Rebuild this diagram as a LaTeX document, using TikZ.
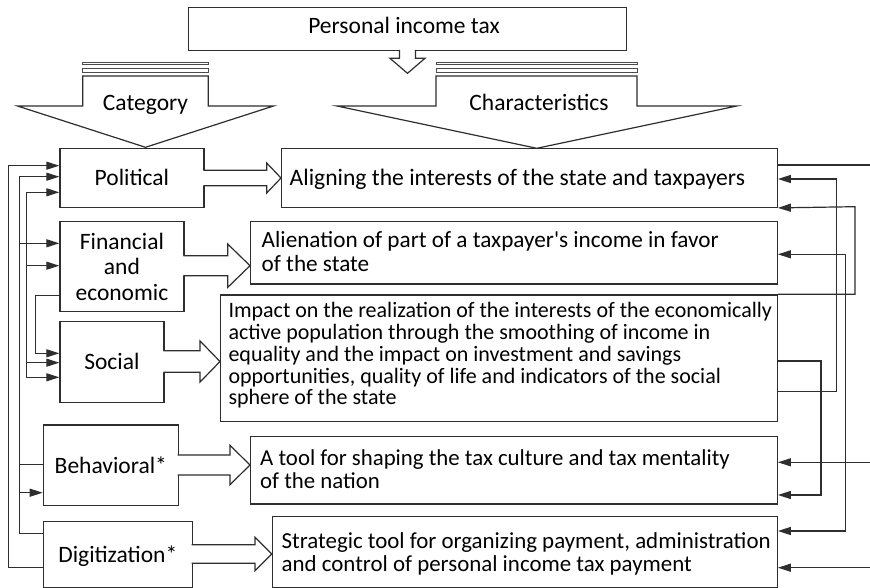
\documentclass[tikz,border=0pt]{standalone}
\usepackage{fontspec}
\setmainfont{Carlito}
\usetikzlibrary{arrows.meta}
\tikzset{
  ln/.style={draw=black!82, line width=1.2pt},
  box/.style={ln, fill=white, inner sep=0pt, anchor=north west},
  catbox/.style={box, align=center, text height=15.5pt, text depth=0pt, font=\fontsize{23.5}{25.5}\selectfont},
  txt/.style={inner sep=0pt, anchor=north west, align=left},
  lbl/.style={inner sep=0pt, anchor=base, font=\fontsize{23.5}{25}\selectfont},
  blk/.style={ln, line join=miter},
  stripe/.style={draw=black!70, line width=0.8pt, fill=white},
  conn/.style={ln},
  arr/.style={ln, -{Triangle[length=13pt,width=8pt]}},
}
\newcommand\barrow[6]{%
  \fill[white] (#1-1.6,#4-#5) -- (#2,#4-#5) -- (#2,#4-#6) -- (#3,#4) -- (#2,#4+#6) -- (#2,#4+#5) -- (#1-1.6,#4+#5) -- cycle;
  \draw[blk] (#1,#4-#5) -- (#2,#4-#5) -- (#2,#4-#6) -- (#3,#4) -- (#2,#4+#6) -- (#2,#4+#5) -- (#1,#4+#5);}
\begin{document}
\begin{tikzpicture}[x=1pt,y=-1pt]
\useasboundingbox[fill=white] (0,0) rectangle (870,588);

% top box
\node[box, minimum width=438pt, minimum height=43pt] (tax) at (188,7) {};
\node[lbl] (taxlbl) at (404,33.3) {Personal income tax};
\fill[white] (399.5,48.5) -- (399.5,58.3) -- (390,58.3) -- (407.5,73.3) -- (425,58.3) -- (415.5,58.3) -- (415.5,48.5) -- cycle;
\draw[blk] (399.5,50) -- (399.5,58.3) -- (390,58.3) -- (407.5,73.3) -- (425,58.3) -- (415.5,58.3) -- (415.5,50);

% big striped arrows
\draw[stripe] (82.7,62.7) rectangle (208.3,64.5);
\draw[stripe] (82.7,68.3) rectangle (208.3,72.7);
\draw[blk, fill=white] (82.7,76) -- (82.7,106) -- (17.5,106) -- (145.5,147.3) -- (273.5,106) -- (208.3,106) -- (208.3,76) -- cycle;
\node[lbl] (catlbl) at (145.5,111) {Category};

\draw[stripe] (436,62.7) rectangle (637,64.5);
\draw[stripe] (436,68.3) rectangle (637,72.7);
\draw[blk, fill=white] (436,76) -- (436,106) -- (337,106) -- (536.8,148.3) -- (736.7,106) -- (637,106) -- (637,76) -- cycle;
\node[lbl] (chrlbl) at (539,110.5) {Characteristics};

% category boxes
\node[catbox, minimum width=144pt, minimum height=58.4pt] (pol) at (59.3,148.3) {Political};
\node[box, align=center, font=\fontsize{23.5}{25.5}\selectfont, minimum width=124pt, minimum height=89.7pt] (fin) at (59.3,221) {Financial\\and\\economic};
\node[catbox, minimum width=104pt, minimum height=80.7pt] (soc) at (59.3,321) {Social};
\node[catbox, minimum width=135pt, minimum height=80.7pt] (beh) at (42.7,424.3) {Behavioral*};
\node[catbox, minimum width=149pt, minimum height=66pt] (dig) at (42.7,520.7) {Digitization*};

% block arrows
\barrow{203.3}{266.7}{281}{178}{7.8}{15}
\barrow{183.3}{227.7}{250}{265.7}{10}{21.7}
\barrow{163.3}{200}{220}{361.5}{10.8}{20.6}
\barrow{177.7}{230}{250}{465}{10}{19.7}
\barrow{191.7}{255}{271.7}{554}{9.2}{16.7}

% characteristic boxes
\node[box, minimum width=495.7pt, minimum height=58.4pt] (ali) at (281,148.3) {};
\node[box, minimum width=526.7pt, minimum height=62.3pt] (aln) at (250,221) {};
\node[box, minimum width=556.7pt, minimum height=126.7pt] (imp) at (220,294.3) {};
\node[box, minimum width=526.7pt, minimum height=67.3pt] (tool) at (250,436) {};
\node[box, minimum width=505pt, minimum height=71pt] (str) at (271.7,515.7) {};

\node[txt, font=\fontsize{23.6}{23.2}\selectfont] (alit) at (289.5,168.5) {Aligning the interests of the state and taxpayers};
\node[txt, font=\fontsize{23.2}{23.2}\selectfont] (alnt) at (261.5,231.5) {Alienation of part of a taxpayer\textquotesingle s income in favor\\of the state};
\node[txt, font=\fontsize{22}{21.8}\selectfont] (impt) at (228.3,302.3) {Impact on the realization of the interests of the economically\\active population through the smoothing of income in\\equality and the impact on investment and savings\\opportunities, quality of life and indicators of the social\\sphere of the state};
\node[txt, font=\fontsize{22.8}{23.2}\selectfont] (toolt) at (260,449.5) {A tool for shaping the tax culture and tax mentality\\of the nation};
\node[txt, font=\fontsize{22.9}{23.2}\selectfont] (strt) at (281.5,532) {Strategic tool for organizing payment, administration\\and control of personal income tax payment};

% left connectors
\draw[arr] (dig.west |- 0,567.5) -| (8.3,165.7) -- (pol.west |- 0,165.7);
\draw[arr] (dig.west |- 0,533.3) -| (19.3,176.7) -- (pol.west |- 0,176.7);
\coordinate (rb) at (19.3,300);
\draw[arr] (rb |- 0,243.3) -- (fin.west |- 0,243.3);
\draw[conn] (beh.west |- 0,464.3) -- (rb |- 0,464.3);
\draw[arr] (rb |- 0,492.7) -- (beh.west |- 0,492.7);
\coordinate (rc) at (26.7,300);
\draw[arr] (rc) |- (pol.west |- 0,192.3);
\draw[arr] (rc) |- (soc.west |- 0,377.3);
\draw[arr] (rc |- 0,265.7) -- (fin.west |- 0,265.7);
\draw[arr] (rc |- 0,362.7) -- (soc.west |- 0,362.7);
\draw[arr] (fin.west |- 0,295.7) -| (35.7,353.3) -- (soc.west |- 0,353.3);

% right connectors
\coordinate (e1) at (870,165);
\draw[conn] (ali.east |- e1) -- (e1);
\draw[arr] (imp.east |- 0,391.7) -| (836.7,179) -- (ali.east |- 0,179);
\draw[arr] (imp.north east) -| (855,206.7) -- (ali.south east);
\coordinate (rr) at (845.7,400);
\draw[arr] (rr) |- (aln.east |- 0,254.3);
\draw[arr] (rr) |- (str.east |- 0,531);
\draw[arr] (imp.east |- 0,361) -| (821,495) -- (tool.east |- 0,495);
\coordinate (e2) at (870,462.3);
\draw[arr] (e2) -- (tool.east |- e2);
\coordinate (e3) at (870,567.7);
\draw[arr] (e3) -- (str.east |- e3);
\end{tikzpicture}
\end{document}
